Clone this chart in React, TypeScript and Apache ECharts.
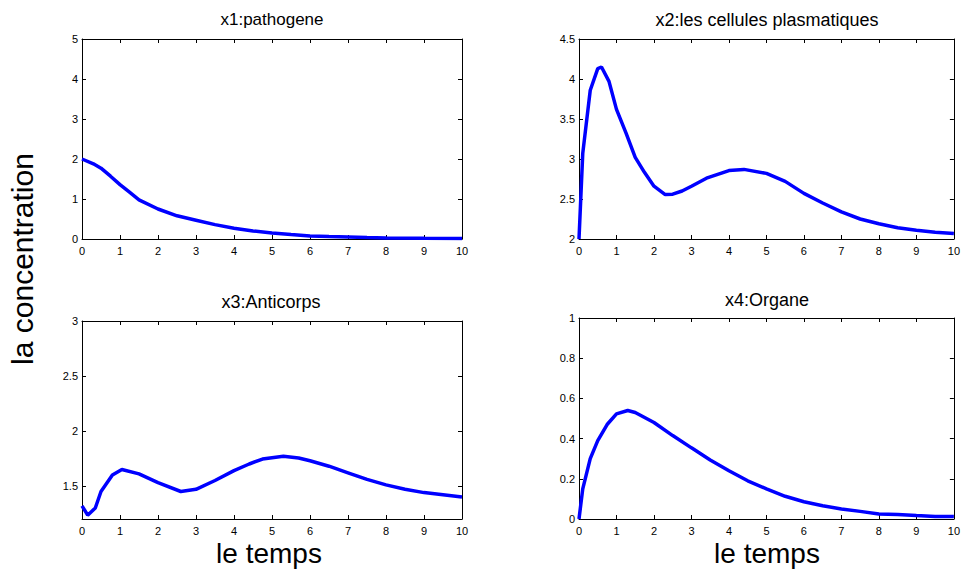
import React, { useEffect, useRef } from "react";
import * as echarts from "echarts";

// x1: pathogene
const T1 = [0, 0.3, 0.5, 0.75, 1, 1.25, 1.5, 2, 2.5, 3, 3.5, 4, 4.5, 5, 5.5, 6, 6.5, 7, 7.5, 8, 9, 10];
const X1 = [2.0, 1.88, 1.77, 1.57, 1.36, 1.17, 0.98, 0.75, 0.58, 0.47, 0.36, 0.27, 0.2, 0.15, 0.11, 0.075, 0.06, 0.05, 0.035, 0.025, 0.017, 0.015];

// x2: les cellules plasmatiques
const T2 = [0, 0.1, 0.3, 0.5, 0.6, 0.8, 1, 1.25, 1.5, 1.75, 2, 2.3, 2.5, 2.75, 3, 3.4, 4, 4.4, 5, 5.5, 6, 6.5, 7, 7.5, 8, 8.5, 9, 9.5, 10];
const X2 = [2.0, 3.07, 3.86, 4.13, 4.15, 3.97, 3.62, 3.33, 3.02, 2.83, 2.66, 2.555, 2.56, 2.6, 2.66, 2.76, 2.855, 2.87, 2.82, 2.72, 2.57, 2.45, 2.34, 2.25, 2.19, 2.14, 2.11, 2.085, 2.07];

// x3: Anticorps
const T3 = [0, 0.15, 0.35, 0.5, 0.8, 1.05, 1.5, 2, 2.6, 3, 3.5, 4, 4.4, 4.75, 5.3, 5.7, 6, 6.5, 7, 7.5, 8, 8.5, 9, 9.5, 10];
const X3 = [1.32, 1.235, 1.3, 1.45, 1.6, 1.65, 1.61, 1.53, 1.45, 1.47, 1.55, 1.64, 1.7, 1.745, 1.77, 1.755, 1.73, 1.68, 1.62, 1.56, 1.51, 1.47, 1.44, 1.42, 1.4];

// x4: Organe
const T4 = [0, 0.1, 0.3, 0.5, 0.75, 1, 1.3, 1.5, 2, 2.5, 3, 3.5, 4, 4.5, 5, 5.5, 6, 6.5, 7, 7.5, 8, 8.5, 9, 9.5, 10];
const X4 = [0, 0.15, 0.3, 0.39, 0.47, 0.523, 0.54, 0.53, 0.48, 0.415, 0.354, 0.294, 0.24, 0.19, 0.15, 0.113, 0.086, 0.066, 0.05, 0.038, 0.025, 0.022, 0.017, 0.013, 0.012];

// tick labels
const Y1_TICKS = [0, 1, 2, 3, 4, 5];
const Y2_TICKS = [2, 2.5, 3, 3.5, 4, 4.5];
const Y3_TICKS = [1.5, 2, 2.5, 3];
const Y4_TICKS = [0, 0.2, 0.4, 0.6, 0.8, 1];

const TITLES = ["x1:pathogene", "x2:les cellules plasmatiques", "x3:Anticorps", "x4:Organe"];
const X_LABEL = "le temps";
const Y_LABEL = "la concentration";

const FONT = '"Liberation Sans", Arial, Helvetica, sans-serif';

export default function App() {
  const ref = useRef<HTMLDivElement>(null);

  useEffect(() => {
    if (!ref.current) return;
    const chart = echarts.init(ref.current, null, { renderer: "svg" });

    const panels = [
      { t: T1, v: X1, yMin: 0, yMax: 5, ticks: Y1_TICKS, grid: { left: 82, top: 39, width: 380, height: 200 } },
      { t: T2, v: X2, yMin: 2, yMax: 4.5, ticks: Y2_TICKS, grid: { left: 579, top: 39, width: 378, height: 200 } },
      { t: T3, v: X3, yMin: 1.2, yMax: 3, ticks: Y3_TICKS, grid: { left: 82, top: 321, width: 380, height: 198 } },
      { t: T4, v: X4, yMin: 0, yMax: 1, ticks: Y4_TICKS, grid: { left: 579, top: 318, width: 378, height: 201 } },
    ];

    const line = { show: true, onZero: false, lineStyle: { color: "#000", width: 1 } };
    const tick = (custom?: number[]) => ({
      show: true,
      inside: true,
      length: 4,
      lineStyle: { color: "#000", width: 1 },
      ...(custom ? { customValues: custom } : {}),
    });

    const grids: any[] = [];
    const xAxes: any[] = [];
    const yAxes: any[] = [];
    const series: any[] = [];

    panels.forEach((p, gi) => {
      grids.push({ ...p.grid, containLabel: false, show: false });
      const xBase = {
        type: "value",
        gridIndex: gi,
        min: 0,
        max: 10,
        interval: 1,
        axisLine: line,
        splitLine: { show: false },
      };
      xAxes.push({
        ...xBase,
        position: "bottom",
        axisTick: tick(),
        axisLabel: { show: true, color: "#000", fontSize: 11, fontFamily: FONT, margin: 6 },
      });
      xAxes.push({
        ...xBase,
        position: "top",
        axisTick: tick(),
        axisLabel: { show: false },
      });
      const yBase = {
        type: "value",
        gridIndex: gi,
        min: p.yMin,
        max: p.yMax,
        axisLine: line,
        splitLine: { show: false },
      };
      yAxes.push({
        ...yBase,
        position: "left",
        axisTick: tick(p.ticks),
        axisLabel: { show: true, color: "#000", fontSize: 11, fontFamily: FONT, margin: 4, customValues: p.ticks },
      });
      yAxes.push({
        ...yBase,
        position: "right",
        axisTick: tick(p.ticks),
        axisLabel: { show: false },
      });
      series.push({
        type: "line",
        xAxisIndex: gi * 2,
        yAxisIndex: gi * 2,
        data: p.t.map((t, i) => [t, p.v[i]]),
        symbol: "none",
        showSymbol: false,
        smooth: false,
        lineStyle: { color: "#0000ff", width: 3.5 },
        itemStyle: { color: "#0000ff" },
        clip: true,
      });
    });

    const txt = (text: string, x: number, y: number, size: number, rotation = 0) => ({
      type: "text",
      x,
      y,
      rotation,
      style: {
        text,
        fill: "#000",
        fontSize: size,
        fontFamily: FONT,
        align: "center",
        verticalAlign: "middle",
      },
    });

    chart.setOption({
      animation: false,
      backgroundColor: "#fff",
      grid: grids,
      xAxis: xAxes,
      yAxis: yAxes,
      series,
      graphic: [
        txt(TITLES[0], 272, 19, 17),
        txt(TITLES[1], 767, 20, 18),
        txt(TITLES[2], 271, 302, 18),
        txt(TITLES[3], 767, 300, 18),
        txt(X_LABEL, 269, 553, 28),
        txt(X_LABEL, 767, 553, 28),
        txt(Y_LABEL, 22, 259, 30, Math.PI / 2),
      ],
    });

    return () => chart.dispose();
  }, []);

  return (
    <div
      ref={ref}
      style={{ position: "absolute", left: 0, top: 0, width: 963, height: 572, background: "#fff" }}
    />
  );
}
